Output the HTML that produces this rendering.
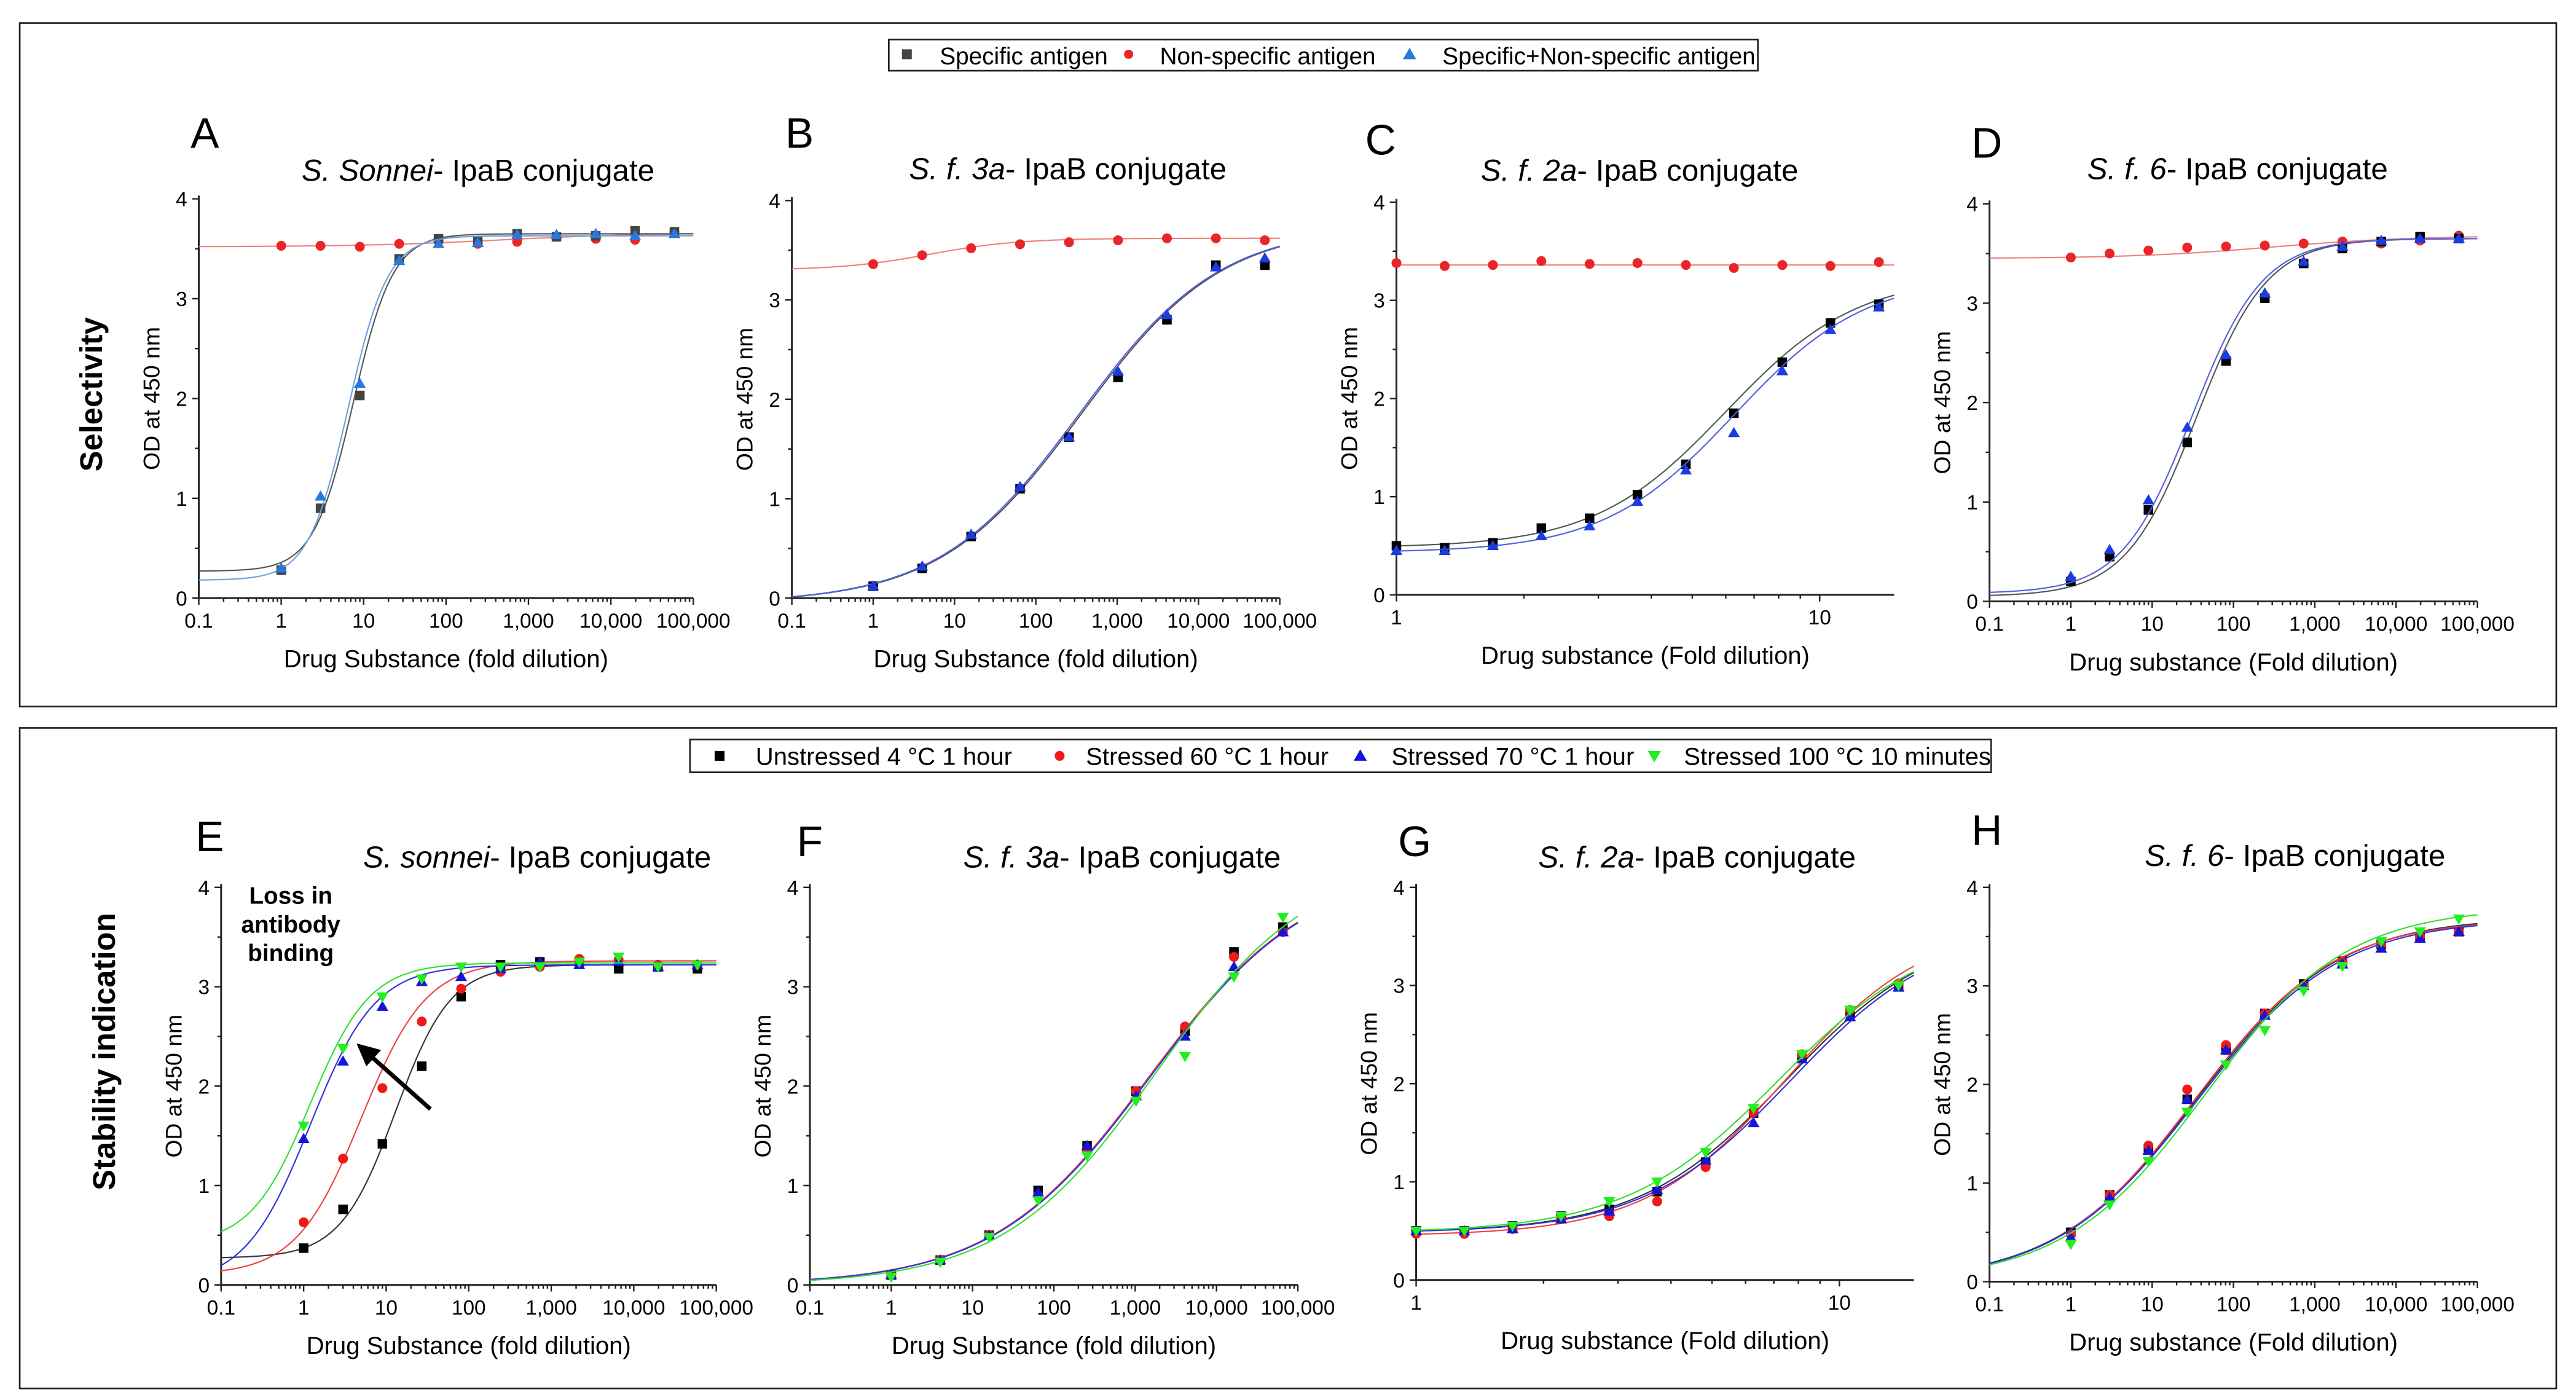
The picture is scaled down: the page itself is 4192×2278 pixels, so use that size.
<!DOCTYPE html>
<html><head><meta charset="utf-8"><style>
html,body{margin:0;padding:0;background:#fff;}
svg{display:block;font-family:"Liberation Sans",Arial,sans-serif;}
</style></head>
<body>
<svg id="fig" width="4192" height="2278" viewBox="0 0 1568 852" xmlns="http://www.w3.org/2000/svg">
<rect x="0" y="0" width="1568" height="852" fill="#fff"/>
<rect x="12" y="14" width="1544" height="416" fill="none" stroke="#222" stroke-width="1"/>
<rect x="12" y="443" width="1544" height="402" fill="none" stroke="#222" stroke-width="1"/>
<text transform="translate(62,240) rotate(-90)" text-anchor="middle" font-size="19" font-weight="bold">Selectivity</text>
<text transform="translate(70,640) rotate(-90)" text-anchor="middle" font-size="19" font-weight="bold">Stability indication</text>

<g>
<rect x="541" y="24" width="529" height="19" fill="#fff" stroke="#222" stroke-width="1"/>
<rect x="549" y="30" width="6" height="6" fill="#444"/>
<text x="572" y="39" font-size="14.5">Specific antigen</text>
<circle cx="687" cy="33" r="2.8" fill="#e8262a"/>
<text x="706" y="39" font-size="14.5">Non-specific antigen</text>
<polygon points="858,29 862,36 854,36" fill="#2a78dc"/>
<text x="878" y="39" font-size="14.5">Specific+Non-specific antigen</text>
</g>
<g>
<rect x="420" y="450" width="792" height="20" fill="#fff" stroke="#222" stroke-width="1"/>
<rect x="435" y="457" width="6" height="6" fill="#000"/>
<text x="460" y="465.5" font-size="15">Unstressed 4 °C 1 hour</text>
<circle cx="645" cy="460" r="3" fill="#f01818"/>
<text x="661" y="465.5" font-size="15">Stressed 60 °C 1 hour</text>
<polygon points="828,456 832,463 824,463" fill="#1515d8"/>
<text x="847" y="465.5" font-size="15">Stressed 70 °C 1 hour</text>
<polygon points="1003,457 1011,457 1007,464" fill="#22ee22"/>
<text x="1025" y="465.5" font-size="15">Stressed 100 °C 10 minutes</text>
</g>
</svg>
<script>
// ---- data ----
const xFactor3 = [1,3,9,27,81,243,729,2187,6561,19683,59049];
const xFactor4 = [1,4,16,64,256,1024,4096,16384,65536];
const xFold13 = [1,1.3,1.69,2.2,2.86,3.71,4.83,6.27,8.16,10.6,13.8];

const aSpecific = [0.28,0.9,2.03,3.4,3.6,3.58,3.65,3.62,3.63,3.68,3.67];
const aCombined = [0.3,1.02,2.15,3.38,3.55,3.56,3.64,3.64,3.65,3.63,3.65];
const aNonspecific = [3.53,3.53,3.52,3.55,3.58,3.55,3.57,3.62,3.6,3.59,3.67];

const bSpecific = [0.12,0.3,0.62,1.1,1.62,2.22,2.8,3.35,3.35];
const bCombined = [0.12,0.32,0.64,1.12,1.62,2.28,2.85,3.33,3.42];
const bNonspecific = [3.36,3.45,3.52,3.56,3.58,3.6,3.62,3.62,3.6];

const cSpecific = [0.5,0.48,0.53,0.68,0.78,1.02,1.33,1.85,2.37,2.77,2.96];
const cCombined = [0.45,0.45,0.5,0.6,0.7,0.95,1.27,1.65,2.28,2.7,2.93];
const cNonspecific = [3.38,3.35,3.36,3.4,3.37,3.38,3.36,3.33,3.36,3.35,3.39];

const dSpecific = [0.2,0.45,0.92,1.6,2.42,3.05,3.4,3.55,3.62,3.67,3.65];
const dCombined = [0.25,0.52,1.02,1.75,2.48,3.1,3.42,3.57,3.63,3.65,3.65];
const dNonspecific = [3.46,3.5,3.53,3.56,3.57,3.58,3.6,3.62,3.6,3.63,3.68];

const eUnstressed = [0.37,0.76,1.42,2.2,2.9,3.22,3.25,3.25,3.18,3.2,3.18];
const e60 = [0.63,1.27,1.98,2.65,2.98,3.15,3.2,3.28,3.27,3.22,3.22];
const e70 = [1.47,2.25,2.8,3.05,3.1,3.18,3.25,3.22,3.25,3.2,3.22];
const e100 = [1.6,2.38,2.9,3.08,3.2,3.2,3.2,3.25,3.3,3.2,3.22];

const fUnstressed = [0.1,0.25,0.5,0.95,1.4,1.95,2.55,3.35,3.6];
const f60 = [0.1,0.25,0.5,0.9,1.35,1.95,2.6,3.3,3.55];
const f70 = [0.1,0.25,0.5,0.93,1.4,1.9,2.5,3.2,3.55];
const f100 = [0.08,0.23,0.48,0.85,1.3,1.85,2.3,3.1,3.7];

const gUnstressed = [0.5,0.5,0.55,0.65,0.72,0.9,1.2,1.7,2.28,2.72,3.0];
const g60 = [0.47,0.47,0.52,0.62,0.65,0.8,1.15,1.7,2.3,2.75,3.02];
const g70 = [0.5,0.5,0.52,0.62,0.7,0.92,1.22,1.6,2.25,2.68,2.98];
const g100 = [0.5,0.5,0.55,0.65,0.8,1.0,1.3,1.75,2.3,2.75,3.0];

const hUnstressed = [0.5,0.88,1.35,1.85,2.35,2.72,3.02,3.25,3.42,3.5,3.55];
const h60 = [0.48,0.88,1.38,1.95,2.4,2.72,3.0,3.25,3.42,3.5,3.55];
const h70 = [0.45,0.85,1.33,1.85,2.35,2.7,3.0,3.22,3.38,3.48,3.55];
const h100 = [0.38,0.78,1.22,1.72,2.2,2.55,2.95,3.2,3.45,3.55,3.68];

// 4PL fit parameters: [bottom, top, ec50, hill]
const fitASpecific = [0.27,3.65,7.5,1.8];
const fitACombined = [0.18,3.63,6.5,1.8];
const fitANonspecific = [3.52,3.66,500,0.5];
const fitBSpecific = [-0.05,3.75,360,0.5];
const fitBCombined = [-0.05,3.75,340,0.5];
const fitBNonspecific = [3.3,3.62,5,0.8];
const fitCSpecific = [0.48,3.25,6,2.8];
const fitCCombined = [0.43,3.25,6.3,2.8];
const fitCNonspecific = [3.36,3.36,6,1];
const fitDSpecific = [0.05,3.65,35,1.0];
const fitDCombined = [0.08,3.65,31,1.0];
const fitDNonspecific = [3.45,3.68,300,0.5];
const fitEUnstressed = [0.27,3.22,13,1.3];
const fitE60 = [0.1,3.26,5,1.1];
const fitE70 = [0,3.22,1.2,1.1];
const fitE100 = [0.4,3.24,1.2,1.2];
const fitFUnstressed = [0,4.2,1500,0.45];
const fitF60 = [0,4.2,1500,0.45];
const fitF70 = [0,4.2,1550,0.45];
const fitF100 = [0,4.3,1850,0.46];
const fitGUnstressed = [0.48,3.6,7.5,2.5];
const fitG60 = [0.45,3.65,7.5,2.6];
const fitG70 = [0.48,3.6,7.7,2.5];
const fitG100 = [0.48,3.6,7.2,2.4];
const fitHUnstressed = [0,3.7,35,0.5];
const fitH60 = [0,3.68,33,0.51];
const fitH70 = [0,3.68,36,0.5];
const fitH100 = [0,3.8,45,0.5];

const wideTicks = [0.1,1,10,100,1000,10000,100000];
const wideTickLabels = ["0.1","1","10","100","1,000","10,000","100,000"];
const narrowTicks = [1,10];
const narrowTickLabels = ["1","10"];
const yTicks = [0,1,2,3,4];

// ---- drawing ----
const NS = "http://www.w3.org/2000/svg";
const svg = document.getElementById("fig");
function mk(tag, attrs, parent){
  const e = document.createElementNS(NS, tag);
  for (const k in attrs) e.setAttribute(k, attrs[k]);
  (parent||svg).appendChild(e);
  return e;
}
function fourPL(p, x){ return p[0] + (p[1]-p[0])/(1+Math.pow(p[2]/x, p[3])); }

const COL = {gray:"#444", red:"#e8262a", lblue:"#2a78dc", black:"#000", sred:"#f01818", blue:"#1515d8", green:"#22ee22"};

function drawPanel(cfg){
  const g = mk("g", {});
  
  
  const lx0 = Math.log10(cfg.xmin), lx1 = Math.log10(cfg.xmax);
  const sx = v => cfg.px0 + (Math.log10(v)-lx0)/(lx1-lx0)*(cfg.px1-cfg.px0);
  const sy = v => cfg.py0 - v/4*(cfg.py0-cfg.py4);
  const ax = mk("path", {d:`M${cfg.px0},${cfg.py4-2}V${cfg.py0}H${cfg.px1}`, fill:"none", stroke:"#222", "stroke-width":1.1}, g);
  
  
  let tp = "";
  for (let d = Math.floor(lx0); d < Math.ceil(lx1); d++){
    for (let m = 1; m < 10; m++){
      const v = m*Math.pow(10,d);
      if (v < cfg.xmin*0.999 || v > cfg.xmax*1.001) continue;
      const X = sx(v);
      tp += `M${X},${cfg.py0}v${m===1?4:2.3}`;
    }
  }
  if (Math.abs(Math.log10(cfg.xmax)%1) < 1e-6) tp += `M${sx(cfg.xmax)},${cfg.py0}v4`;
  for (let v=0; v<=4; v+=0.5){
    const Y = sy(v);
    tp += `M${cfg.px0},${Y}h${v%1===0?-4:-2.3}`;
  }
  const tk = mk("path", {d:tp, stroke:"#222", "stroke-width":0.9, fill:"none"}, g);
  
  
  cfg.xticks.forEach((v,i)=>{
    const t = mk("text", {x:sx(v), y:cfg.py0+18, "text-anchor":"middle", "font-size":12.5}, g);
    t.textContent = cfg.xlabels[i];
    
    
  });
  yTicks.forEach(v=>{
    const t = mk("text", {x:cfg.px0-7, y:sy(v)+4.5, "text-anchor":"end", "font-size":12.5}, g);
    t.textContent = String(v);
    
    
  });
  const xt = mk("text", {x:(cfg.px0+cfg.px1)/2, y:cfg.py0+42, "text-anchor":"middle", "font-size":15}, g);
  xt.textContent = cfg.xtitle;
  
  
  const yt = mk("text", {transform:`translate(${cfg.px0-24},${(cfg.py0+cfg.py4)/2}) rotate(-90)`, "text-anchor":"middle", "font-size":14}, g);
  yt.textContent = "OD at 450 nm";
  
  
  const lt = mk("text", {x:cfg.letter[0], y:cfg.letter[1], "font-size":26}, g);
  lt.textContent = cfg.id;
  
  
  const tt = mk("text", {x:cfg.title[0], y:cfg.title[1], "text-anchor":"middle", "font-size":18.5}, g);
  const ti = mk("tspan", {"font-style":"italic"}, tt);
  ti.textContent = cfg.titleItalic;
  const tr = mk("tspan", {}, tt);
  tr.textContent = "- IpaB conjugate";
  
  
  cfg.series.forEach(s=>{
    let d = "";
    const N = 200;
    for (let i=0;i<=N;i++){
      const lv = lx0 + (lx1-lx0)*i/N;
      const v = Math.pow(10, lv);
      const yv = Math.max(0, fourPL(s.fit, v));
      d += (i?"L":"M") + sx(v).toFixed(2) + "," + sy(yv).toFixed(2);
    }
    const c = mk("path", {d:d, fill:"none", stroke:s.line||s.color, "stroke-width":0.8}, g);
    
    
    s.ys.forEach((yv,i)=>{
      const X = sx(s.xs[i]), Y = sy(yv);
      let m;
      if (s.marker==="square") m = mk("rect", {x:X-2.9, y:Y-2.9, width:5.8, height:5.8, fill:s.color}, g);
      else if (s.marker==="circle") m = mk("circle", {cx:X, cy:Y, r:3, fill:s.color}, g);
      else if (s.marker==="up") m = mk("polygon", {points:`${X},${Y-3.6} ${X+3.6},${Y+2.6} ${X-3.6},${Y+2.6}`, fill:s.color}, g);
      else m = mk("polygon", {points:`${X-3.6},${Y-2.6} ${X+3.6},${Y-2.6} ${X},${Y+3.6}`, fill:s.color}, g);
      
      
    });
  });
  return g;
}

const topSel = (xs, sp, cb, ns, fsp, fcb, fns, red) => [
  {name:"nonspecific", xs:xs, ys:ns, fit:fns, color:COL.red, line:"#f08080", marker:"circle"},
  {name:"specific", xs:xs, ys:sp, fit:fsp, color:red?COL.black:COL.gray, line:"#555", marker:"square"},
  {name:"combined", xs:xs, ys:cb, fit:fcb, color:red?"#1a3ce0":COL.lblue, line:red?"#5060e0":"#6aa0e0", marker:"up"}
];
const botSel = (xs, u, a, b, c, fu, fa, fb, fc) => [
  {name:"unstressed", xs:xs, ys:u, fit:fu, color:COL.black, line:"#333", marker:"square"},
  {name:"stressed-60c", xs:xs, ys:a, fit:fa, color:COL.sred, line:"#f04040", marker:"circle"},
  {name:"stressed-70c", xs:xs, ys:b, fit:fb, color:COL.blue, line:"#3030e0", marker:"up"},
  {name:"stressed-100c", xs:xs, ys:c, fit:fc, color:COL.green, line:"#30e030", marker:"down"}
];

const XT1 = "Drug Substance (fold dilution)", XT2 = "Drug substance (Fold dilution)";
drawPanel({id:"A", px0:121, px1:422, xmin:0.1, xmax:1e5, py0:364, py4:121, xticks:wideTicks, xlabels:wideTickLabels, xtitle:XT1, letter:[116,90], title:[291,110], titleItalic:"S. Sonnei",
  series: topSel(xFactor3, aSpecific, aCombined, aNonspecific, fitASpecific, fitACombined, fitANonspecific, false)});
drawPanel({id:"B", px0:482, px1:779, xmin:0.1, xmax:1e5, py0:364, py4:122, xticks:wideTicks, xlabels:wideTickLabels, xtitle:XT1, letter:[478,90], title:[650,109], titleItalic:"S. f. 3a",
  series: topSel(xFactor4, bSpecific, bCombined, bNonspecific, fitBSpecific, fitBCombined, fitBNonspecific, true)});
drawPanel({id:"C", px0:850, px1:1153, xmin:1, xmax:15, py0:362, py4:123, xticks:narrowTicks, xlabels:narrowTickLabels, xtitle:XT2, letter:[831,94], title:[998,110], titleItalic:"S. f. 2a",
  series: topSel(xFold13, cSpecific, cCombined, cNonspecific, fitCSpecific, fitCCombined, fitCNonspecific, true)});
drawPanel({id:"D", px0:1211, px1:1508, xmin:0.1, xmax:1e5, py0:366, py4:124, xticks:wideTicks, xlabels:wideTickLabels, xtitle:XT2, letter:[1200,96], title:[1362,109], titleItalic:"S. f. 6",
  series: topSel(xFactor3, dSpecific, dCombined, dNonspecific, fitDSpecific, fitDCombined, fitDNonspecific, true)});

drawPanel({id:"E", px0:134.6, px1:436, xmin:0.1, xmax:1e5, py0:782, py4:540, xticks:wideTicks, xlabels:wideTickLabels, xtitle:XT1, letter:[119,518], title:[327,528], titleItalic:"S. sonnei",
  series: botSel(xFactor3, eUnstressed, e60, e70, e100, fitEUnstressed, fitE60, fitE70, fitE100)});
drawPanel({id:"F", px0:493, px1:790, xmin:0.1, xmax:1e5, py0:782, py4:540, xticks:wideTicks, xlabels:wideTickLabels, xtitle:XT1, letter:[485,521], title:[683,528], titleItalic:"S. f. 3a",
  series: botSel(xFactor4, fUnstressed, f60, f70, f100, fitFUnstressed, fitF60, fitF70, fitF100)});
drawPanel({id:"G", px0:862, px1:1165, xmin:1, xmax:15, py0:779, py4:540, xticks:narrowTicks, xlabels:narrowTickLabels, xtitle:XT2, letter:[851,521], title:[1033,528], titleItalic:"S. f. 2a",
  series: botSel(xFold13, gUnstressed, g60, g70, g100, fitGUnstressed, fitG60, fitG70, fitG100)});
drawPanel({id:"H", px0:1211, px1:1508, xmin:0.1, xmax:1e5, py0:780, py4:540, xticks:wideTicks, xlabels:wideTickLabels, xtitle:XT2, letter:[1200,514], title:[1397,527], titleItalic:"S. f. 6",
  series: botSel(xFactor3, hUnstressed, h60, h70, h100, fitHUnstressed, fitH60, fitH70, fitH100)});

const ann = mk("text", {x:177, y:550, "text-anchor":"middle", "font-size":14.5, "font-weight":"bold"});


["Loss in","antibody","binding"].forEach((s,i)=>{
  const t = mk("tspan", {x:177, dy:i?17.5:0}, ann);
  t.textContent = s;
});
const arrow = mk("path", {d:"M262,675L226,643", stroke:"#000", "stroke-width":2.6, fill:"none"});


const head = mk("polygon", {points:"217,635 232,639 223,649", fill:"#000"});


</script>
</body></html>
